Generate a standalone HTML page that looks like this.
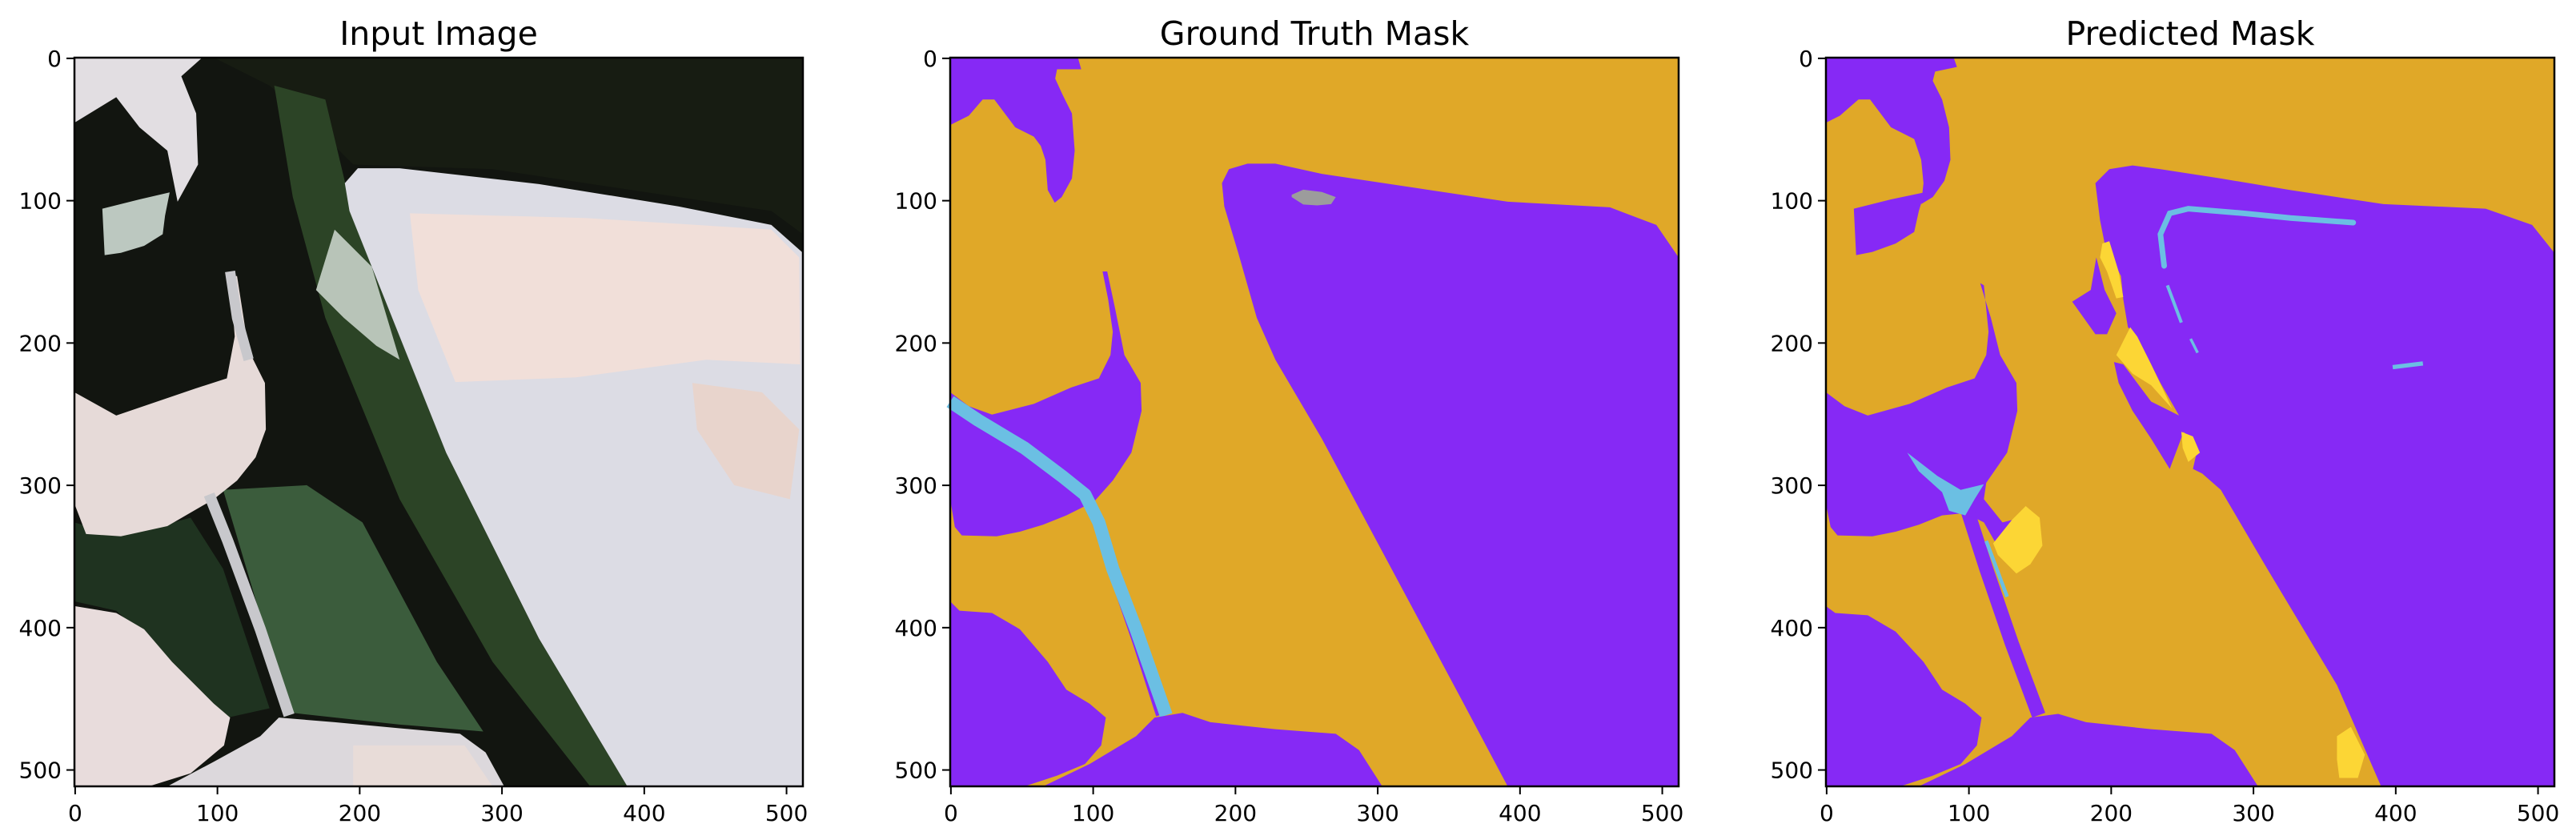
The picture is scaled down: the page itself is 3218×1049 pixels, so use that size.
<!DOCTYPE html>
<html><head><meta charset="utf-8">
<style>
html,body{margin:0;padding:0;background:#fff;}
svg{display:block;}
text{font-family:"DejaVu Sans","Liberation Sans",sans-serif;fill:#000;}
</style></head>
<body>
<svg id="fig" width="3218" height="1049" viewBox="0 0 3218 1049" xmlns="http://www.w3.org/2000/svg">
<rect width="3218" height="1049" fill="#fff"/>

<!-- Panel 1: input image -->
<g transform="translate(93,72) scale(0.58036)">
  <rect width="1568" height="1568" fill="#121510"/>
  <polygon fill="#171c12" points="300,0 1568,0 1568,380 1500,330 900,240 600,230 520,150 420,60"/>
  <polygon fill="#2c4426" points="430,60 540,90 590,300 640,450 800,850 1000,1250 1190,1568 1110,1568 900,1300 700,950 540,560 470,300"/>
  <polygon fill="#3b5c3c" points="320,930 500,920 620,1000 780,1300 880,1450 700,1435 470,1410 400,1200"/>
  <polygon fill="#1f3320" points="0,1000 100,1030 250,990 320,1100 420,1400 330,1420 200,1290 90,1190 0,1170"/>
  <polygon fill="#e2dee2" points="0,0 275,0 230,40 262,120 266,230 222,310 200,200 140,150 90,85 0,140"/>
  <polygon fill="#bcc8c0" points="60,325 140,305 205,290 195,340 190,380 150,405 100,420 65,425"/>
  <polygon fill="#e6dad8" points="0,720 90,770 260,712 328,690 345,600 335,470 350,470 375,630 410,700 412,800 390,860 350,910 300,950 200,1008 100,1030 25,1025 0,960"/>
  <polyline fill="none" stroke="#c8c8cc" stroke-width="22" points="335,460 350,560 375,650"/>
  <polyline fill="none" stroke="#c8c8cc" stroke-width="24" points="290,940 330,1040 400,1230 462,1415"/>
  <polygon fill="#e8dcdc" points="0,1180 90,1195 150,1230 210,1300 300,1390 335,1420 322,1480 250,1540 160,1568 0,1568"/>
  <polygon fill="#dcd8dc" points="440,1420 560,1430 700,1443 830,1455 885,1495 925,1568 200,1568 300,1515 400,1460"/>
  <polygon fill="#e8dcd8" points="600,1480 840,1480 900,1568 600,1568"/>
  <polygon fill="#dcdce4" points="582,270 610,238 700,238 1000,272 1300,320 1500,360 1568,420 1568,1568 1190,1568 1000,1250 800,850 640,450 592,330"/>
  <polygon fill="#f1dfd9" points="722,335 1100,345 1500,370 1560,430 1562,660 1360,650 1080,688 820,698 740,500"/>
  <polygon fill="#e8d4cc" points="1330,700 1480,720 1560,800 1540,950 1420,920 1340,800"/>
  <polygon fill="#b8c4b8" points="560,370 640,450 700,650 650,620 580,560 520,500"/>
</g>

<!-- Panel 2: ground truth -->
<g transform="translate(1187,72) scale(0.58036)">
  <rect width="1568" height="1568" fill="#E0A828"/>
  <polygon fill="#8629F5" points="0,0 275,0 282,25 230,25 226,45 242,80 262,120 268,200 262,260 240,300 225,312 210,285 205,220 195,190 180,170 140,150 95,90 70,90 40,125 0,145"/>
  <polygon fill="#8629F5" points="600,240 640,228 700,228 800,250 1000,280 1200,310 1420,322 1520,360 1568,430 1568,1568 1200,1568 1100,1380 950,1100 800,820 700,650 660,560 620,420 590,320 585,270"/>
  <polygon fill="#9C9C9C" points="735,295 760,284 800,289 830,300 820,315 790,318 760,316 735,300"/>
  <polygon fill="#8629F5" points="0,720 40,750 90,768 180,745 260,710 320,690 345,640 350,590 340,520 328,460 338,460 355,540 375,640 410,700 412,760 390,850 350,910 310,955 250,985 200,1005 150,1020 100,1030 25,1028 10,1010 0,950"/>
  <polyline fill="none" stroke="#8629F5" stroke-width="14" points="300,960 345,1100 400,1260 450,1415"/>
  <polyline fill="none" stroke="#6BBFE3" stroke-width="28" stroke-linejoin="round" points="0,740 60,780 160,840 240,900 290,940 320,1000 350,1100 400,1230 465,1415"/>
  <polygon fill="#8629F5" points="0,1170 20,1190 90,1195 150,1230 210,1300 250,1360 300,1390 335,1420 325,1480 290,1520 230,1545 160,1568 0,1568"/>
  <polygon fill="#8629F5" points="440,1420 500,1410 560,1430 700,1445 830,1455 880,1490 930,1568 200,1568 300,1520 400,1460"/>
</g>

<!-- Panel 3: predicted -->
<g transform="translate(2281,72) scale(0.58036)">
  <rect width="1568" height="1568" fill="#E0A828"/>
  <polygon fill="#8629F5" points="0,0 275,0 282,20 235,30 230,50 250,90 265,150 268,220 255,265 230,300 205,315 210,270 205,220 190,175 140,150 95,90 70,90 30,125 0,140"/>
  <polygon fill="#8629F5" points="60,325 140,305 212,290 200,330 190,375 150,400 100,418 65,425"/>
  <polygon fill="#8629F5" points="580,270 610,240 660,232 720,240 850,260 1000,285 1200,315 1420,325 1520,360 1568,420 1568,1568 1195,1568 1100,1350 950,1100 850,930 810,895 790,885 800,840 770,805 740,885 700,820 660,760 630,700 620,655 640,660 700,740 760,770 720,700 670,600 650,580 640,520 635,470 600,400 590,350"/>
  <polygon fill="#8629F5" points="530,525 570,500 582,430 600,500 625,550 605,595 580,595 555,560"/>
  <polygon fill="#FCD635" points="595,400 610,395 630,460 640,515 625,518 605,460 590,430"/>
  <polygon fill="#FCD635" points="625,640 655,580 670,600 700,660 745,755 700,705 660,680"/>
  <polygon fill="#FCD635" points="765,805 790,815 805,850 780,870 768,840"/>
  <polyline fill="none" stroke="#6BBFE3" stroke-width="12" stroke-linecap="round" points="728,448 720,380 740,335 780,325 900,335 1000,345 1135,355"/>
  <polyline fill="none" stroke="#6BBFE3" stroke-width="7" points="735,490 765,570"/>
  <polyline fill="none" stroke="#6BBFE3" stroke-width="6" points="785,605 800,635"/>
  <polyline fill="none" stroke="#6BBFE3" stroke-width="9" points="1220,666 1285,658"/>
  <polygon fill="#8629F5" points="0,720 40,750 90,770 180,745 260,710 320,690 345,640 350,590 340,490 332,485 355,560 375,640 410,700 412,760 390,850 345,915 340,950 380,1000 420,990 440,1060 380,1070 340,1000 300,980 250,985 200,1005 150,1020 100,1030 25,1028 10,1010 0,960"/>
  <polyline fill="none" stroke="#8629F5" stroke-width="30" points="300,960 345,1100 400,1260 458,1415"/>
  <polygon fill="#6BBFE3" points="175,850 240,900 290,930 340,918 320,950 300,985 265,975 250,935 200,890"/>
  <polyline fill="none" stroke="#6BBFE3" stroke-width="8" points="345,1040 390,1160"/>
  <polygon fill="#FCD635" points="360,1045 400,995 430,965 460,990 466,1050 440,1090 410,1110 370,1070"/>
  <polygon fill="#8629F5" points="0,1180 20,1195 90,1200 150,1235 210,1300 250,1360 300,1390 335,1420 325,1480 290,1520 230,1545 160,1568 0,1568"/>
  <polygon fill="#8629F5" points="440,1420 500,1412 560,1430 700,1445 830,1455 880,1490 930,1568 200,1568 300,1520 400,1460"/>
  <polygon fill="#FCD635" points="1100,1460 1130,1440 1160,1500 1145,1550 1105,1550 1100,1510"/>
</g>

<g id="axes"></g>
</svg>
<script>
const panelTitles = ["Input Image", "Ground Truth Mask", "Predicted Mask"];
const tickValues = [0, 100, 200, 300, 400, 500];
const tickLabels = ["0", "100", "200", "300", "400", "500"];
const imgSize = [512];

const NS = "http://www.w3.org/2000/svg";
const axesG = document.getElementById("axes");
const lefts = [93, 1187, 2281], top0 = 72, side = 910;
function sx(left, v){ return left + (v + 0.5) * side / imgSize[0]; }
function sy(v){ return top0 + (v + 0.5) * side / imgSize[0]; }
function mk(tag, attrs){ const e = document.createElementNS(NS, tag); for (const k in attrs) e.setAttribute(k, attrs[k]); return e; }

panelTitles.forEach((t, i) => {
  const L = lefts[i];
  const title = mk("text", {x: L + side/2, y: 56, "text-anchor": "middle", "font-size": 41});
  title.textContent = t;
  
  
  axesG.appendChild(title);

  const frame = mk("rect", {x: L, y: top0, width: side, height: side, fill: "none", stroke: "#000", "stroke-width": 2.5});
  
  
  axesG.appendChild(frame);

  tickValues.forEach((v, j) => {
    const x = sx(L, v);
    const xt = mk("line", {x1: x, x2: x, y1: top0 + side, y2: top0 + side + 10, stroke: "#000", "stroke-width": 2});
    
    
    axesG.appendChild(xt);
    const xl = mk("text", {x: x, y: top0 + side + 43, "text-anchor": "middle", "font-size": 28});
    xl.textContent = tickLabels[j];
    
    
    axesG.appendChild(xl);

    const y = sy(v);
    const yt = mk("line", {x1: L - 10, x2: L, y1: y, y2: y, stroke: "#000", "stroke-width": 2});
    
    
    axesG.appendChild(yt);
    const yl = mk("text", {x: L - 16, y: y + 10, "text-anchor": "end", "font-size": 28});
    yl.textContent = tickLabels[j];
    
    
    axesG.appendChild(yl);
  });
});
</script>
</body></html>
